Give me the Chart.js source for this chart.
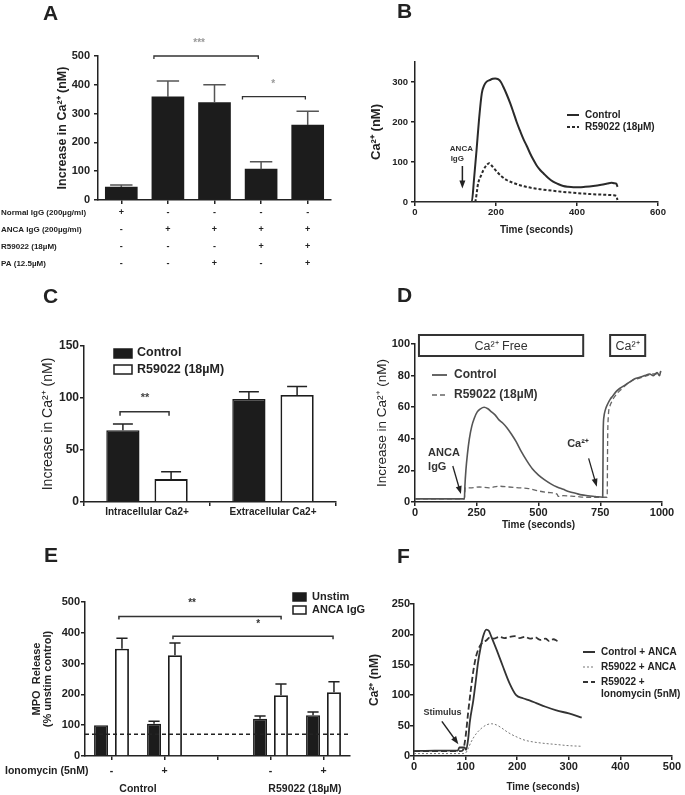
<!DOCTYPE html>
<html>
<head>
<meta charset="utf-8">
<script src="https://cdn.jsdelivr.net/npm/chart.js@4"></script>
<style>
  body { margin: 0; background: #fff; }
  #page { position: relative; width: 685px; height: 795px; overflow: hidden; font-family: 'Liberation Sans', Arial, sans-serif; }
  canvas { position: absolute; }
  .tag { position: absolute; font-size: 21px; font-weight: bold; color: #222; line-height: 1; }
</style>
</head>
<body>
<div id="page">
  <canvas id="chartA" width="340" height="275" style="left:0;top:0"></canvas>
  <canvas id="chartB" width="345" height="270" style="left:340px;top:0"></canvas>
  <canvas id="chartC" width="340" height="250" style="left:0;top:280px"></canvas>
  <canvas id="chartD" width="345" height="255" style="left:340px;top:280px"></canvas>
  <canvas id="chartE" width="400" height="255" style="left:0;top:540px"></canvas>
  <canvas id="chartF" width="345" height="255" style="left:340px;top:540px"></canvas>
  <div class="tag" style="left:43px;top:2px">A</div>
  <div class="tag" style="left:397px;top:0">B</div>
  <div class="tag" style="left:43px;top:285px">C</div>
  <div class="tag" style="left:397px;top:284px">D</div>
  <div class="tag" style="left:44px;top:544px">E</div>
  <div class="tag" style="left:397px;top:545px">F</div>
</div>
<script>
// A - increase in Ca2+ per condition
const aRowNames = ['Normal IgG (200µg/ml)', 'ANCA IgG (200µg/ml)', 'R59022 (18µM)', 'PA (12.5µM)']
const aNormalIgG = ['+', '-', '-', '-', '-']
const aAncaIgG = ['-', '+', '+', '+', '+']
const aR59022 = ['-', '-', '-', '+', '+']
const aPA = ['-', '-', '+', '-', '+']
const aValues = [45, 358, 338, 107, 260]
const aSem = [7, 55, 62, 26, 48]

// B - Ca2+ trace
const bControlT = [0, 140, 146, 152, 158, 165, 171, 177, 185, 192, 198, 205, 212, 218, 226, 235, 243, 251, 259, 267, 276, 284, 292, 300, 309, 317, 329, 341, 353, 366, 378, 391, 405, 420, 440, 460, 475, 485, 492, 497, 500]
const bControl = [0, 0, 60, 130, 205, 272, 292, 301, 305, 308, 309, 307, 300, 288, 270, 247, 224, 200, 179, 159, 140, 122, 106, 92, 80, 72, 60, 51, 45, 40, 38, 37, 37, 38, 40, 43, 46, 48, 47, 46, 38]
const bR59022T = [0, 148, 156, 163, 169, 176, 183, 190, 202, 214, 226, 242, 259, 284, 309, 350, 391, 430, 470, 490, 497, 500]
const bR59022 = [0, 0, 47, 66, 80, 91, 97, 90, 76, 64, 55, 48, 42, 36, 32, 27, 23, 20, 18, 17, 15, 5]

// C - intracellular / extracellular
const cCategories = ['Intracellular Ca2+', 'Extracellular Ca2+']
const cControl = [69, 99]
const cControlSem = [6, 7]
const cR59022 = [22, 103]
const cR59022Sem = [7, 8]

// D - Ca2+ free then Ca2+ added
const dControlT = [0, 200, 202, 206, 212, 220, 230, 240, 252, 265, 280, 295, 310, 325, 340, 355, 372, 390, 410, 430, 453, 475, 500, 525, 550, 575, 600, 625, 650, 675, 700, 730, 760, 762, 765, 770, 780, 790, 800, 815, 830, 850, 870, 890, 910, 930, 950, 965, 980, 990, 995]
const dControl = [2, 2, 10, 20, 30, 40, 48, 53, 57, 59, 60, 59, 57, 55, 52, 50, 47, 43, 38, 32, 26, 21, 17, 14, 11.5, 9.5, 8, 6.5, 5.5, 4.5, 4, 3.5, 3, 45, 54, 58, 62, 65, 67, 70, 72, 74, 76, 78, 79, 80, 81, 80, 82, 80, 83]
const dR59022T = [0, 200, 203, 230, 260, 300, 340, 380, 420, 460, 500, 540, 575, 580, 600, 650, 700, 750, 778, 780, 783, 788, 795, 805, 820, 840, 860, 880, 900, 920, 940, 960, 975, 985, 995]
const dR59022 = [2, 2, 9, 9, 9.5, 9, 10, 9.5, 9, 8.5, 7, 6, 5, 3.5, 4, 3.5, 3, 3, 3, 40, 55, 60, 63, 66, 69, 72, 75, 77, 78, 79, 80, 81, 81, 82, 82]

// E - MPO release
const eIonomycin = ['-', '+', '', '-', '+']
const eUnstim = [100, 105, null, 121, 132]
const eUnstimSem = [0, 8, null, 9, 11]
const eAnca = [348, 327, null, 197, 207]
const eAncaSem = [34, 40, null, 37, 34]
const eUnstimControl = 71

// F - Ca2+ traces with ionomycin
const fControlT = [0, 40, 85, 88, 98, 101, 105, 108, 115, 120, 124, 129, 134, 140, 145, 150, 160, 172, 185, 198, 211, 225, 237, 255, 276, 300, 315, 325]
const fControl = [8, 9, 9, 14, 14, 10, 28, 55, 92, 125, 153, 178, 197, 208, 206, 196, 175, 148, 120, 100, 95, 91, 87, 81, 75, 70, 66, 63]
const fR59022T = [0, 95, 100, 105, 110, 120, 130, 140, 150, 160, 170, 180, 190, 200, 211, 225, 250, 275, 300, 325]
const fR59022 = [4, 4, 5, 12, 22, 36, 45, 51, 53, 51, 46, 40, 35, 31, 27, 24, 21, 19, 17, 16]
const fIonoT = [0, 90, 95, 100, 105, 110, 115, 120, 125, 132, 140, 147, 155, 165, 175, 185, 195, 205, 215, 225, 235, 245, 255, 262, 270, 278]
const fIono = [8, 8, 10, 32, 72, 108, 140, 163, 176, 186, 190, 195, 193, 196, 194, 196, 197, 194, 196, 193, 195, 191, 193, 189, 192, 189]

const INK = '#222'
const FONT = "'Liberation Sans', Arial, sans-serif"

Chart.defaults.font.family = FONT
Chart.defaults.color = INK
Chart.defaults.animation = false
Chart.defaults.responsive = false
Chart.defaults.devicePixelRatio = 1
Chart.defaults.plugins.legend.display = false
Chart.defaults.plugins.tooltip.enabled = false

document.addEventListener('DOMContentLoaded', function() {
  initChartA()
  initChartB()
  initChartC()
  initChartD()
  initChartE()
  initChartF()
})

function zip(xs, ys) {
  return xs.map((x, i) => ({x: x, y: ys[i]}))
}

function axis(extra) {
  return Object.assign({
    grid: {drawOnChartArea: false, tickLength: 4, color: INK, lineWidth: 1.5},
    border: {color: INK, width: 1.5}
  }, extra)
}

function yAxis(min, max, step, width, title, titleFont, tickSize, tickPad) {
  return axis({
    min: min,
    max: max,
    ticks: {stepSize: step, padding: tickPad, font: {size: tickSize, weight: 'bold'}, color: INK, callback: v => String(v)},
    title: {display: true, text: title, font: titleFont, color: INK, padding: {top: 4, bottom: 4}},
    afterFit: function(s) { s.width = width }
  })
}

function xLinear(max, step, height, tickSize, tickPad) {
  return axis({
    type: 'linear',
    min: 0,
    max: max,
    ticks: {stepSize: step, padding: tickPad, font: {size: tickSize, weight: 'bold'}, color: INK, maxRotation: 0, callback: v => String(v)},
    title: {display: true, text: 'Time (seconds)', font: {size: 10, weight: 'bold'}, color: INK, padding: {top: 4, bottom: 4}},
    afterFit: function(s) { s.height = height }
  })
}

function errorBars(sems, capFrac, color) {
  return {
    id: 'errorBars',
    afterDatasetsDraw(chart) {
      const ctx = chart.ctx
      const y = chart.scales.y
      ctx.save()
      ctx.strokeStyle = color
      ctx.lineWidth = 1.5
      sems.forEach((sem, di) => {
        const values = chart.data.datasets[di].data
        chart.getDatasetMeta(di).data.forEach((bar, i) => {
          if (!sem[i]) return
          const top = y.getPixelForValue(values[i] + sem[i])
          const half = bar.width * capFrac / 2
          ctx.beginPath()
          ctx.moveTo(bar.x, bar.y)
          ctx.lineTo(bar.x, top)
          ctx.moveTo(bar.x - half, top)
          ctx.lineTo(bar.x + half, top)
          ctx.stroke()
        })
      })
      ctx.restore()
    }
  }
}

function label(ctx, text, x, y, font, align, color) {
  ctx.font = font
  ctx.textAlign = align || 'center'
  ctx.textBaseline = 'middle'
  ctx.fillStyle = color || INK
  ctx.fillText(text, x, y)
}

function bracket(ctx, x1, x2, y, drop) {
  ctx.beginPath()
  ctx.moveTo(x1, y + drop)
  ctx.lineTo(x1, y)
  ctx.lineTo(x2, y)
  ctx.lineTo(x2, y + drop)
  ctx.stroke()
}

function arrow(ctx, x1, y1, x2, y2) {
  const a = Math.atan2(y2 - y1, x2 - x1)
  const c = Math.cos(a), s = Math.sin(a)
  ctx.beginPath()
  ctx.moveTo(x1, y1)
  ctx.lineTo(x2 - 5 * c, y2 - 5 * s)
  ctx.stroke()
  ctx.beginPath()
  ctx.moveTo(x2, y2)
  ctx.lineTo(x2 - 8 * c + 3 * s, y2 - 8 * s - 3 * c)
  ctx.lineTo(x2 - 8 * c - 3 * s, y2 - 8 * s + 3 * c)
  ctx.closePath()
  ctx.fill()
}

function sample(ctx, x, y, len, width, dash, color) {
  ctx.save()
  ctx.strokeStyle = color
  ctx.lineWidth = width
  ctx.setLineDash(dash)
  ctx.beginPath()
  ctx.moveTo(x, y)
  ctx.lineTo(x + len, y)
  ctx.stroke()
  ctx.restore()
}

function swatch(ctx, x, y, w, h, filled) {
  ctx.save()
  ctx.fillStyle = filled ? '#1c1c1c' : '#fff'
  ctx.strokeStyle = '#1c1c1c'
  ctx.lineWidth = 1.5
  ctx.fillRect(x, y, w, h)
  ctx.strokeRect(x, y, w, h)
  ctx.restore()
}

function initChartA() {
  const labels = aValues.map((v, i) => [aNormalIgG[i], aAncaIgG[i], aR59022[i], aPA[i]])
  const notes = {
    id: 'notesA',
    afterDraw(chart) {
      const {ctx, chartArea, scales: {x, y}} = chart
      ctx.save()
      aRowNames.forEach((name, i) => label(ctx, name, 1, chartArea.bottom + 13 + 17 * i, 'bold 8px ' + FONT, 'left'))
      ctx.strokeStyle = '#333'
      ctx.lineWidth = 1.3
      bracket(ctx, x.getPixelForValue(0.7), x.getPixelForValue(2.94), y.getPixelForValue(500), 3)
      label(ctx, '***', x.getPixelForValue(1.67), y.getPixelForValue(545), 'bold 10px ' + FONT, 'center', '#999')
      bracket(ctx, x.getPixelForValue(2.6), x.getPixelForValue(3.95), y.getPixelForValue(359), 3)
      label(ctx, '*', x.getPixelForValue(3.26), y.getPixelForValue(402), 'bold 10px ' + FONT, 'center', '#999')
      ctx.restore()
    }
  }
  return new Chart(document.getElementById('chartA'), {
    type: 'bar',
    data: {
      labels: labels,
      datasets: [{data: aValues, backgroundColor: '#1c1c1c', barThickness: 32}]
    },
    options: {
      layout: {padding: {left: 51, top: 56, right: 9, bottom: 0}},
      scales: {
        x: axis({
          offset: true,
          grid: {offset: false, drawOnChartArea: false, tickLength: 4, color: INK, lineWidth: 1.5},
          ticks: {font: {size: 9, weight: 'bold', lineHeight: 17 / 9}, padding: 0.5, color: INK, maxRotation: 0, autoSkip: false},
          afterFit: function(s) { s.height = 75 }
        }),
        y: yAxis(0, 500, 100, 47, 'Increase in Ca²⁺ (nM)', {size: 12.5, weight: 'bold'}, 11, 4)
      }
    },
    plugins: [errorBars([aSem], 0.7, '#555'), notes]
  })
}

function initChartB() {
  const notes = {
    id: 'notesB',
    afterDraw(chart) {
      const {ctx, scales: {x, y}} = chart
      ctx.save()
      label(ctx, 'ANCA', x.getPixelForValue(86), y.getPixelForValue(134), 'bold 8px ' + FONT, 'left', '#333')
      label(ctx, 'IgG', x.getPixelForValue(88), y.getPixelForValue(107), 'bold 8px ' + FONT, 'left', '#333')
      ctx.strokeStyle = '#222'
      ctx.fillStyle = '#222'
      ctx.lineWidth = 1.5
      arrow(ctx, x.getPixelForValue(117), y.getPixelForValue(90), x.getPixelForValue(117), y.getPixelForValue(34))
      sample(ctx, 227, 115, 12, 2, [], '#2a2a2a')
      sample(ctx, 227, 127, 12, 2, [3, 2], '#2a2a2a')
      label(ctx, 'Control', 245, 115, 'bold 10px ' + FONT, 'left')
      label(ctx, 'R59022 (18µM)', 245, 127, 'bold 10px ' + FONT, 'left')
      ctx.restore()
    }
  }
  const y = yAxis(0, 350, 100, 50, 'Ca²⁺ (nM)', {size: 13, weight: 'bold'}, 9.5, 3)
  y.afterBuildTicks = function(s) { s.ticks = s.ticks.filter(t => t.value <= 300) }
  return new Chart(document.getElementById('chartB'), {
    type: 'line',
    data: {
      datasets: [
        {data: zip(bControlT, bControl), borderColor: '#2a2a2a', borderWidth: 2},
        {data: zip(bR59022T, bR59022), borderColor: '#2a2a2a', borderWidth: 2, borderDash: [3, 2]}
      ]
    },
    options: {
      layout: {padding: {left: 25, top: 62, right: 27, bottom: 30}},
      elements: {point: {radius: 0}, line: {cubicInterpolationMode: 'monotone'}},
      scales: {
        x: xLinear(600, 200, 38, 9.5, 1),
        y: y
      }
    },
    plugins: [notes]
  })
}

function initChartC() {
  const notes = {
    id: 'notesC',
    afterDraw(chart) {
      const {ctx, scales: {x, y}} = chart
      ctx.save()
      swatch(ctx, 114, 69, 18, 9, true)
      swatch(ctx, 114, 85, 18, 9, false)
      label(ctx, 'Control', 137, 73, 'bold 12.5px ' + FONT, 'left')
      label(ctx, 'R59022 (18µM)', 137, 90, 'bold 12.5px ' + FONT, 'left')
      ctx.strokeStyle = '#333'
      ctx.lineWidth = 1.5
      bracket(ctx, x.getPixelForValue(-0.214), x.getPixelForValue(0.175), y.getPixelForValue(86.8), 4)
      label(ctx, '**', x.getPixelForValue(-0.016), y.getPixelForValue(100), 'bold 11px ' + FONT, 'center', '#444')
      ctx.restore()
    }
  }
  return new Chart(document.getElementById('chartC'), {
    type: 'bar',
    data: {
      labels: cCategories,
      datasets: [
        {data: cControl, backgroundColor: '#1c1c1c', borderColor: '#1c1c1c', borderWidth: 1.5},
        {data: cR59022, backgroundColor: '#fff', borderColor: '#1c1c1c', borderWidth: 1.8}
      ]
    },
    options: {
      categoryPercentage: 0.765,
      barPercentage: 0.69,
      layout: {padding: {left: 36, top: 66, right: 4, bottom: 6}},
      scales: {
        x: axis({
          grid: {offset: true, drawOnChartArea: false, tickLength: 4, color: INK, lineWidth: 1.5},
          ticks: {font: {size: 10, weight: 'bold'}, padding: 0, color: INK, maxRotation: 0},
          afterFit: function(s) { s.height = 22 }
        }),
        y: yAxis(0, 150, 50, 48, 'Increase in Ca²⁺ (nM)', {size: 14, weight: 'normal'}, 12, 1)
      }
    },
    plugins: [errorBars([cControlSem, cR59022Sem], 0.6, '#222'), notes]
  })
}

function initChartD() {
  const notes = {
    id: 'notesD',
    afterDraw(chart) {
      const {ctx, scales: {x, y}} = chart
      ctx.save()
      ctx.strokeStyle = '#333'
      ctx.lineWidth = 2
      const top = y.getPixelForValue(105.7), bottom = y.getPixelForValue(92.4)
      const free1 = x.getPixelForValue(16), free2 = x.getPixelForValue(681)
      const ca1 = x.getPixelForValue(790), ca2 = x.getPixelForValue(932)
      ctx.strokeRect(free1, top, free2 - free1, bottom - top)
      ctx.strokeRect(ca1, top, ca2 - ca1, bottom - top)
      label(ctx, 'Ca²⁺ Free', (free1 + free2) / 2, (top + bottom) / 2 + 1, '12.5px ' + FONT, 'center', '#333')
      label(ctx, 'Ca²⁺', (ca1 + ca2) / 2, (top + bottom) / 2 + 1, '12.5px ' + FONT, 'center', '#333')
      sample(ctx, 92, 95, 15, 1.8, [], '#555')
      sample(ctx, 92, 115, 15, 1.4, [5, 3], '#666')
      label(ctx, 'Control', 114, 95, 'bold 12px ' + FONT, 'left', '#333')
      label(ctx, 'R59022 (18µM)', 114, 115, 'bold 12px ' + FONT, 'left', '#333')
      label(ctx, 'ANCA', x.getPixelForValue(53), y.getPixelForValue(31), 'bold 11px ' + FONT, 'left', '#333')
      label(ctx, 'IgG', x.getPixelForValue(53), y.getPixelForValue(22), 'bold 11px ' + FONT, 'left', '#333')
      label(ctx, 'Ca²⁺', x.getPixelForValue(616), y.getPixelForValue(37), 'bold 11px ' + FONT, 'left', '#333')
      ctx.strokeStyle = '#222'
      ctx.fillStyle = '#222'
      ctx.lineWidth = 1.3
      arrow(ctx, x.getPixelForValue(153), y.getPixelForValue(22.8), x.getPixelForValue(186), y.getPixelForValue(5))
      arrow(ctx, x.getPixelForValue(703), y.getPixelForValue(27.6), x.getPixelForValue(736), y.getPixelForValue(9.7))
      ctx.restore()
    }
  }
  return new Chart(document.getElementById('chartD'), {
    type: 'line',
    data: {
      datasets: [
        {data: zip(dControlT, dControl), borderColor: '#555', borderWidth: 1.6},
        {data: zip(dR59022T, dR59022), borderColor: '#666', borderWidth: 1.3, borderDash: [5, 3]}
      ]
    },
    options: {
      layout: {padding: {left: 30, top: 64, right: 23, bottom: 0}},
      elements: {point: {radius: 0}, line: {cubicInterpolationMode: 'monotone'}},
      scales: {
        x: xLinear(1000, 250, 33, 11, 0.7),
        y: yAxis(0, 100, 20, 45, 'Increase in Ca²⁺ (nM)', {size: 13.5, weight: 'normal'}, 11, 1)
      }
    },
    plugins: [notes]
  })
}

function initChartE() {
  const notes = {
    id: 'notesE',
    afterDraw(chart) {
      const {ctx, chartArea, scales: {x, y}} = chart
      ctx.save()
      ctx.strokeStyle = INK
      ctx.lineWidth = 1.5
      ctx.setLineDash([4, 3])
      ctx.beginPath()
      ctx.moveTo(chartArea.left, y.getPixelForValue(eUnstimControl))
      ctx.lineTo(chartArea.right, y.getPixelForValue(eUnstimControl))
      ctx.stroke()
      ctx.setLineDash([])
      ctx.strokeStyle = '#333'
      ctx.lineWidth = 1.5
      bracket(ctx, x.getPixelForValue(0.14), x.getPixelForValue(3.2), y.getPixelForValue(453), 3)
      label(ctx, '**', x.getPixelForValue(1.52), y.getPixelForValue(496), 'bold 10px ' + FONT, 'center', '#333')
      bracket(ctx, x.getPixelForValue(1.16), x.getPixelForValue(4.18), y.getPixelForValue(389), 3)
      label(ctx, '*', x.getPixelForValue(2.77), y.getPixelForValue(428), 'bold 10px ' + FONT, 'center', '#333')
      swatch(ctx, 293, 53, 13, 8, true)
      swatch(ctx, 293, 66, 13, 8, false)
      label(ctx, 'Unstim', 312, 57, 'bold 11px ' + FONT, 'left')
      label(ctx, 'ANCA IgG', 312, 70, 'bold 11px ' + FONT, 'left')
      label(ctx, 'Ionomycin (5nM)', 5, 231, 'bold 10.5px ' + FONT, 'left')
      label(ctx, 'Control', x.getPixelForValue(0.5), 249, 'bold 10.5px ' + FONT, 'center')
      label(ctx, 'R59022 (18µM)', x.getPixelForValue(3.65), 249, 'bold 10.5px ' + FONT, 'center')
      ctx.restore()
    }
  }
  return new Chart(document.getElementById('chartE'), {
    type: 'bar',
    data: {
      labels: eIonomycin,
      datasets: [
        {data: eUnstim, backgroundColor: '#1c1c1c', borderColor: '#1c1c1c', borderWidth: 1.5},
        {data: eAnca, backgroundColor: '#fff', borderColor: '#1c1c1c', borderWidth: 1.8}
      ]
    },
    options: {
      categoryPercentage: 0.79,
      barPercentage: 0.667,
      layout: {padding: {left: 27, top: 62, right: 50, bottom: 0}},
      scales: {
        x: axis({
          grid: {offset: false, drawOnChartArea: false, tickLength: 4, color: INK, lineWidth: 1.5},
          ticks: {font: {size: 10.5, weight: 'bold'}, padding: 4.7, color: INK, maxRotation: 0, autoSkip: false},
          afterFit: function(s) { s.height = 39 }
        }),
        y: yAxis(0, 500, 100, 58, ['MPO  Release', '(% unstim control)'], {size: 11, weight: 'bold', lineHeight: 1}, 11, 1)
      }
    },
    plugins: [errorBars([eUnstimSem, eAncaSem], 0.8, '#222'), notes]
  })
}

function initChartF() {
  const notes = {
    id: 'notesF',
    afterDraw(chart) {
      const {ctx, scales: {x, y}} = chart
      ctx.save()
      sample(ctx, 243, 112, 12, 2, [], '#333')
      sample(ctx, 243, 127, 12, 1, [2, 2], '#777')
      sample(ctx, 243, 142, 12, 2, [5, 3], '#333')
      label(ctx, 'Control + ANCA', 261, 112, 'bold 10px ' + FONT, 'left')
      label(ctx, 'R59022 + ANCA', 261, 127, 'bold 10px ' + FONT, 'left')
      label(ctx, 'R59022 +', 261, 142, 'bold 10px ' + FONT, 'left')
      label(ctx, 'Ionomycin (5nM)', 261, 154, 'bold 10px ' + FONT, 'left')
      label(ctx, 'Stimulus', x.getPixelForValue(55), y.getPixelForValue(71), 'bold 9px ' + FONT, 'center', '#333')
      ctx.strokeStyle = '#222'
      ctx.fillStyle = '#222'
      ctx.lineWidth = 1.5
      arrow(ctx, x.getPixelForValue(54), y.getPixelForValue(57), x.getPixelForValue(86), y.getPixelForValue(19.5))
      ctx.restore()
    }
  }
  return new Chart(document.getElementById('chartF'), {
    type: 'line',
    data: {
      datasets: [
        {data: zip(fControlT, fControl), borderColor: '#333', borderWidth: 1.8},
        {data: zip(fR59022T, fR59022), borderColor: '#777', borderWidth: 1, borderDash: [2, 2]},
        {data: zip(fIonoT, fIono), borderColor: '#333', borderWidth: 1.8, borderDash: [6, 3]}
      ]
    },
    options: {
      layout: {padding: {left: 23, top: 64, right: 13, bottom: 0}},
      elements: {point: {radius: 0}, line: {cubicInterpolationMode: 'monotone'}},
      scales: {
        x: (function() {
          const s = xLinear(500, 100, 39, 11, 0)
          s.title.padding = {top: 4, bottom: 2}
          return s
        })(),
        y: yAxis(0, 250, 50, 51, 'Ca²⁺ (nM)', {size: 12, weight: 'bold'}, 11, 0)
      }
    },
    plugins: [notes]
  })
}
</script>
</body>
</html>
